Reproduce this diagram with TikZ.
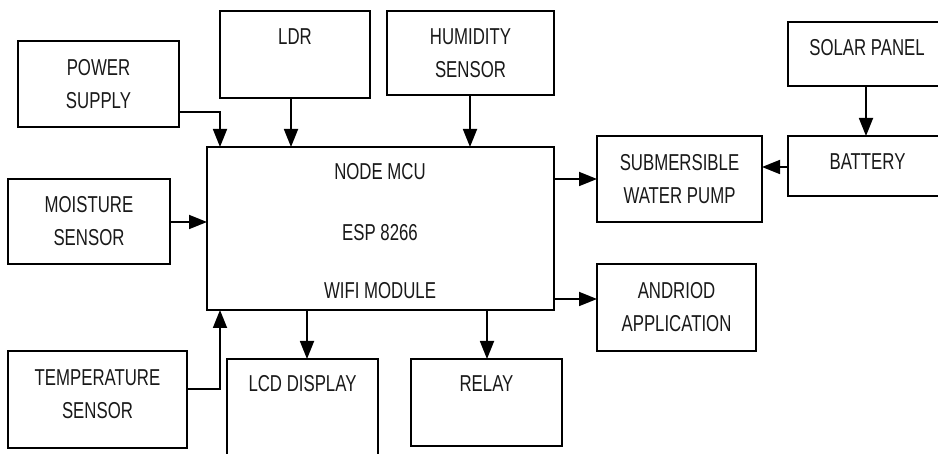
\documentclass[tikz,border=0pt]{standalone}
\usepackage{fontspec}
\setmainfont{Liberation Sans}[FakeStretch=0.73]
\usetikzlibrary{arrows.meta}
\begin{document}
\begin{tikzpicture}[x=1pt,y=-1pt,
  box/.style={draw=black,line width=1.8pt,rectangle,inner sep=0pt,outer sep=0pt,align=center,text=black!90,font=\fontsize{23}{33}\selectfont},
  txt/.style={inner sep=0pt,text=black!90,font=\fontsize{23}{33}\selectfont},
  arr/.style={line width=1.8pt,-{Triangle[length=18pt,width=14pt]}}]
\useasboundingbox (0,0) rectangle (938,454);
\clip (0,0) rectangle (938,454);
\fill[white] (0,0) rectangle (938,454);
% boxes
\node[box,minimum width=161pt,minimum height=86pt] (pow) at (98.5,84) {POWER\\SUPPLY};
\node[box,minimum width=150pt,minimum height=87pt] (ldr) at (295,54.5) {};
\node[txt] (ldrt) at (295,37) {LDR};
\node[box,minimum width=167pt,minimum height=84pt] (hum) at (470.5,53) {HUMIDITY\\SENSOR};
\node[box,minimum width=347pt,minimum height=163pt] (main) at (380.5,228.5) {};
\node[txt] (m1) at (380,172) {NODE MCU};
\node[txt] (m2) at (380,233) {ESP 8266};
\node[txt] (m3) at (380,291) {WIFI MODULE};
\node[box,minimum width=162pt,minimum height=85pt] (moist) at (89,221.5) {MOISTURE\\SENSOR};
\node[box,minimum width=179pt,minimum height=97pt] (temp) at (97.5,399.5) {};
\node[txt,align=center] (tempt) at (97.5,394) {TEMPERATURE\\SENSOR};
\node[box,minimum width=151pt,minimum height=121pt] (lcd) at (302.5,419.5) {};
\node[txt] (lcdt) at (302.5,384) {LCD DISPLAY};
\node[box,minimum width=151pt,minimum height=87pt] (relay) at (486.5,402.5) {};
\node[txt] (relayt) at (486.5,384) {RELAY};
\node[box,minimum width=165pt,minimum height=86pt] (sub) at (679.5,179) {SUBMERSIBLE\\WATER PUMP};
\node[box,minimum width=159pt,minimum height=87pt] (andr) at (676.5,307.5) {ANDRIOD\\APPLICATION};
\node[box,minimum width=172pt,minimum height=64pt] (solar) at (874,54) {};
\node[txt] (solart) at (867,48) {SOLAR PANEL};
\node[box,minimum width=172pt,minimum height=60pt] (bat) at (874,166) {};
\node[txt] (batt) at (867.5,162) {BATTERY};
% helper coordinates
\coordinate (cp) at (220,112);
\coordinate (cl) at (291,0);
\coordinate (ch) at (470,0);
\coordinate (cm) at (0,222);
\coordinate (ct) at (220,389);
\coordinate (cd) at (307,0);
\coordinate (cr) at (487,0);
\coordinate (ca) at (0,299);
\coordinate (cs) at (866,0);
\coordinate (cb) at (0,167);
% connectors
\draw[arr] (pow.east |- cp) -| (main.north -| cp);
\draw[arr] (ldr.south -| cl) -- (main.north -| cl);
\draw[arr] (hum.south -| ch) -- (main.north -| ch);
\draw[arr] (moist.east |- cm) -- (main.west |- cm);
\draw[arr] (temp.east |- ct) -| (main.south -| ct);
\draw[arr] (main.south -| cd) -- (lcd.north -| cd);
\draw[arr] (main.south -| cr) -- (relay.north -| cr);
\draw[arr] (main.east |- sub.west) -- (sub.west);
\draw[arr] (main.east |- ca) -- (andr.west |- ca);
\draw[arr] (bat.west |- cb) -- (sub.east |- cb);
\draw[arr] (solar.south -| cs) -- (bat.north -| cs);
\end{tikzpicture}
\end{document}
